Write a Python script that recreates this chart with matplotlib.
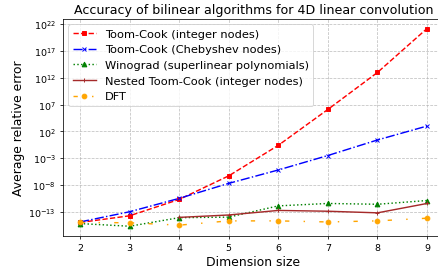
import numpy as np
import matplotlib
matplotlib.use("Agg")
from matplotlib import pyplot as plt

# dimension sizes
dims = [2, 3, 4, 5, 6, 7, 8, 9]
nested_dims = [4, 5, 6, 7, 8, 9]

# log10 of average relative error
toom_int_log = [-15.0, -13.75, -10.7, -6.3, -0.6, 6.1, 13.0, 21.2]
toom_cheb_log = [-14.9, -13.0, -10.5, -7.7, -5.2, -2.5, 0.4, 3.0]
winograd_log = [-15.2, -15.7, -14.1, -14.0, -11.9, -11.45, -11.6, -10.9]
nested_log = [-14.05, -13.6, -12.75, -12.9, -13.2, -11.45]
dft_log = [-15.0, -15.05, -15.5, -14.7, -14.7, -14.9, -14.7, -14.2]

labels = [
    "Toom-Cook (integer nodes)",
    "Toom-Cook (Chebyshev nodes)",
    "Winograd (superlinear polynomials)",
    "Nested Toom-Cook (integer nodes)",
    "DFT",
]

fig = plt.figure(figsize=(6.4, 4.0), dpi=68.44)
ax = fig.add_axes([0.143, 0.1347, 0.8716, 0.7945])

ms = 5
ax.plot(dims, 10.0 ** np.array(toom_int_log), color="red", linestyle="--",
        marker="s", markersize=ms, label=labels[0])
ax.plot(dims, 10.0 ** np.array(toom_cheb_log), color="blue", linestyle="-.",
        marker="x", markersize=ms, label=labels[1])
ax.plot(dims, 10.0 ** np.array(winograd_log), color="green", linestyle=":",
        marker="^", markersize=ms, label=labels[2])
ax.plot(nested_dims, 10.0 ** np.array(nested_log), color="brown", linestyle="-",
        marker="+", markersize=ms, label=labels[3])
ax.plot(dims, 10.0 ** np.array(dft_log), color="orange",
        linestyle=(0, (3, 10, 1, 10)), marker="o", markersize=ms, label=labels[4])

ax.set_yscale("log")
ax.set_yticks([10.0 ** k for k in [-13, -8, -3, 2, 7, 12, 17, 22]])
ax.minorticks_off()
ax.set_xticks(dims)
ax.grid(True, linestyle="--", color="#b0b0b0", alpha=0.8)

ax.set_title("Accuracy of bilinear algorithms for 4D linear convolution", fontsize=13.3)
ax.set_xlabel("Dimension size", fontsize=13)
ax.set_ylabel("Average relative error", fontsize=13)
ax.legend(loc="upper left", fontsize=12)

fig.savefig("out.png", dpi=68.44)
